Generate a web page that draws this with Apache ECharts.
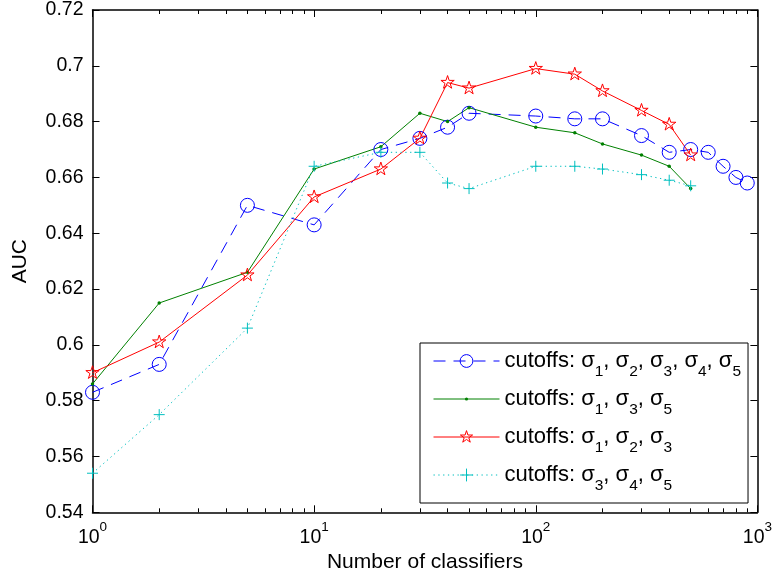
<!DOCTYPE html>
<html>
<head>
<meta charset="utf-8">
<script src="https://cdn.jsdelivr.net/npm/echarts@6/dist/echarts.min.js"></script>
<style>
  html, body { margin: 0; padding: 0; background: #fff; }
  #chart { width: 775px; height: 579px; }
</style>
</head>
<body>
<div id="chart"></div>
<script>
// ---- data ----
var xLong  = [1, 2, 5, 10, 20, 30, 40, 50, 100, 150, 200, 300, 400, 500, 600, 700, 800, 900];
var xShort = [1, 2, 5, 10, 20, 30, 40, 50, 100, 150, 200, 300, 400, 500];

var aucAll   = [0.583, 0.593, 0.650, 0.643, 0.670, 0.674, 0.678, 0.683, 0.682, 0.681, 0.681, 0.675, 0.669, 0.670, 0.669, 0.664, 0.660, 0.658];
var aucS135  = [0.586, 0.615, 0.626, 0.663, 0.671, 0.683, 0.680, 0.685, 0.678, 0.676, 0.672, 0.668, 0.664, 0.656];
var aucS123  = [0.590, 0.601, 0.625, 0.653, 0.663, 0.674, 0.694, 0.692, 0.699, 0.697, 0.691, 0.684, 0.679, 0.668];
var aucS345  = [0.554, 0.575, 0.606, 0.664, 0.669, 0.669, 0.658, 0.656, 0.664, 0.664, 0.663, 0.661, 0.659, 0.657];

var seriesNames = [
  'cutoffs: σ_1, σ_2, σ_3, σ_4, σ_5',
  'cutoffs: σ_1, σ_3, σ_5',
  'cutoffs: σ_1, σ_2, σ_3',
  'cutoffs: σ_3, σ_4, σ_5'
];

var minorTicks = [2, 3, 4, 5, 6, 7, 8, 9, 20, 30, 40, 50, 60, 70, 80, 90, 200, 300, 400, 500, 600, 700, 800, 900];

// marker shapes (extra moveTo points keep the box square)
var STAR = 'path://M0,0M20,20M10,0L12.245,6.91L19.511,6.91L13.633,11.18L15.878,18.09L10,13.82L4.122,18.09L6.367,11.18L0.489,6.91L7.755,6.91Z';
var DOT  = 'path://M0,0M12,12M7.5,6A1.5,1.5,0,1,1,4.5,6A1.5,1.5,0,1,1,7.5,6Z';
var PLUS = 'path://M5,0L5,10M0,5L10,5';

var FONT = '"Liberation Sans", Arial, Helvetica, sans-serif';

function pairs(xs, ys) {
  return xs.map(function(x, i) { return [x, ys[i]]; });
}

var chart = echarts.init(document.getElementById('chart'));

var tickLine = { color: '#000', width: 1 };

function xAxisCfg(pos, major, showLabel) {
  return {
    type: 'log', logBase: 10, min: 1, max: 1000, position: pos,
    axisLine: { show: major, lineStyle: { color: '#000', width: 1.5 } },
    axisTick: major
      ? { show: true, inside: true, length: 7, lineStyle: tickLine }
      : { show: true, inside: true, length: 4, lineStyle: tickLine, customValues: minorTicks },
    axisLabel: showLabel ? {
      show: true, margin: 8, color: '#000', fontFamily: FONT, fontSize: 19.5,
      formatter: function(v) { return '10{sup|' + Math.round(Math.log10(v)) + '}'; },
      rich: { sup: { fontSize: 13.5, fontFamily: FONT, color: '#000', padding: [0, 0, 20, 0] } }
    } : { show: false },
    splitLine: { show: false },
    minorTick: { show: false },
    name: showLabel ? 'Number of classifiers' : '',
    nameLocation: 'middle', nameGap: 36,
    nameTextStyle: { color: '#000', fontFamily: FONT, fontSize: 21 }
  };
}

function yAxisCfg(pos, showLabel) {
  return {
    type: 'value', min: 0.54, max: 0.72, interval: 0.02, position: pos,
    axisLine: { show: true, lineStyle: { color: '#000', width: 1.5 } },
    axisTick: { show: true, inside: true, length: 7, lineStyle: tickLine },
    axisLabel: showLabel ? { show: true, margin: 9, color: '#000', fontFamily: FONT, fontSize: 19.5 } : { show: false },
    splitLine: { show: false },
    name: showLabel ? 'AUC' : '',
    nameLocation: 'middle', nameGap: 62,
    nameTextStyle: { color: '#000', fontFamily: FONT, fontSize: 21 }
  };
}

var option = {
  animation: false,
  backgroundColor: '#fff',
  grid: { left: 92.5, right: 16.5, top: 6.5, bottom: 66.7, containLabel: false },
  xAxis: [
    xAxisCfg('bottom', true, true),
    xAxisCfg('bottom', false, false),
    xAxisCfg('top', true, false),
    xAxisCfg('top', false, false)
  ],
  yAxis: [
    yAxisCfg('left', true),
    yAxisCfg('right', false)
  ],
  legend: {
    orient: 'vertical',
    left: 420, top: 343,
    padding: [7, 7, 9, 13],
    itemWidth: 66, itemHeight: 16, itemGap: 8,
    backgroundColor: '#fff',
    borderColor: '#000', borderWidth: 1,
    selectedMode: false,
    data: seriesNames,
    lineStyle: { width: 1 },
    itemStyle: { borderWidth: 1 },
    textStyle: {
      color: '#000', fontFamily: FONT, fontSize: 22,
      rich: { s: { fontFamily: FONT, fontSize: 15.5, color: '#000', padding: [22, 0, 0, 0] } }
    },
    formatter: function(name) { return name.replace(/_(\d)/g, '{s|$1}'); }
  },
  series: [
    {
      name: seriesNames[0], type: 'line', data: pairs(xLong, aucAll),
      symbol: 'circle', symbolSize: 14, showAllSymbol: true,
      lineStyle: { color: '#0000ff', width: 1, type: [12, 8] },
      itemStyle: { color: 'transparent', borderColor: '#0000ff', borderWidth: 1 }
    },
    {
      name: seriesNames[1], type: 'line', data: pairs(xShort, aucS135),
      symbol: DOT, symbolSize: 14, showAllSymbol: true,
      lineStyle: { color: '#008000', width: 1 },
      itemStyle: { color: '#008000', borderWidth: 0 }
    },
    {
      name: seriesNames[2], type: 'line', data: pairs(xShort, aucS123),
      symbol: STAR, symbolSize: 14, showAllSymbol: true,
      lineStyle: { color: '#ff0000', width: 1 },
      itemStyle: { color: 'transparent', borderColor: '#ff0000', borderWidth: 1 }
    },
    {
      name: seriesNames[3], type: 'line', data: pairs(xShort, aucS345),
      symbol: PLUS, symbolSize: 11, showAllSymbol: true,
      lineStyle: { color: '#00bfbf', width: 1, type: [1.3, 3.5] },
      itemStyle: { color: 'transparent', borderColor: '#00bfbf', borderWidth: 1 }
    }
  ]
};

chart.setOption(option);
</script>
</body>
</html>
